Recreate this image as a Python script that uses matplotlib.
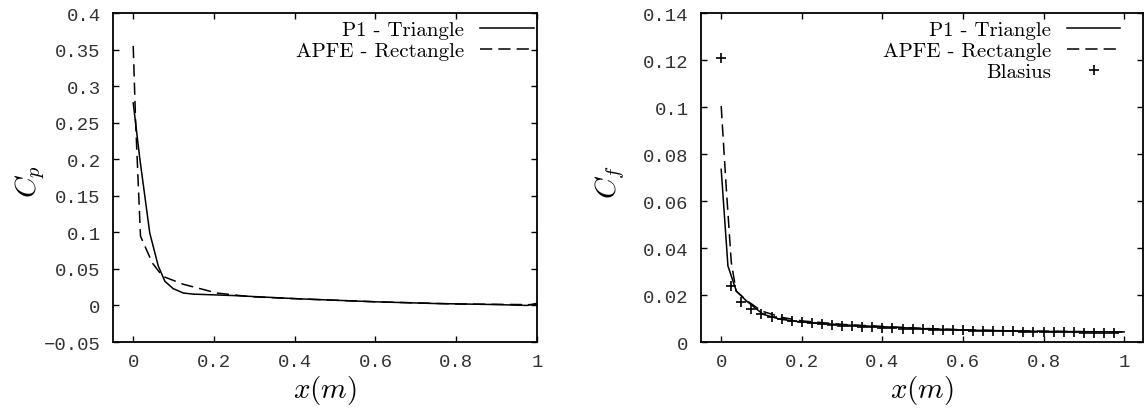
import matplotlib
matplotlib.use('Agg')
import matplotlib.pyplot as plt
import numpy as np

# values
cp_x_p1 = [0.0, 0.0165, 0.041, 0.062, 0.0785, 0.099, 0.124, 0.149, 0.25, 0.413, 0.6, 0.744, 0.9, 0.975, 1.0]
cp_p1 = [0.277, 0.200, 0.099, 0.054, 0.033, 0.023, 0.017, 0.0155, 0.0135, 0.009, 0.005, 0.0027, 0.0012, 0.0, 0.003]
cp_x_apfe = [0.0, 0.006, 0.018, 0.025, 0.0475, 0.0725, 0.124, 0.207, 0.29, 0.413, 0.6, 0.8, 1.0]
cp_apfe = [0.355, 0.25, 0.095, 0.086, 0.058, 0.040, 0.029, 0.017, 0.012, 0.009, 0.005, 0.002, 0.001]

cf_x_p1 = [0.0, 0.0167, 0.0375, 0.0625, 0.104, 0.146, 0.2, 0.3, 0.4, 0.5, 0.6, 0.7, 0.8, 0.9, 1.0]
cf_p1 = [0.0735, 0.0324, 0.0217, 0.0175, 0.0118, 0.0097, 0.0085, 0.0073, 0.0065, 0.0057, 0.0051, 0.0048, 0.0045, 0.0044, 0.0043]
cf_x_apfe = [0.0, 0.0124, 0.025, 0.037, 0.0625, 0.1, 0.15, 0.2, 0.3, 0.4, 0.5, 0.6, 0.7, 0.8, 0.9, 1.0]
cf_apfe = [0.1004, 0.066, 0.034, 0.0217, 0.0178, 0.0132, 0.0105, 0.009, 0.0075, 0.0066, 0.0058, 0.0052, 0.0048, 0.0046, 0.0044, 0.0043]

blasius_x = [0.0, 0.025, 0.05, 0.075, 0.1, 0.125, 0.15, 0.175, 0.2, 0.225,
             0.25, 0.275, 0.3, 0.325, 0.35, 0.375, 0.4, 0.425, 0.45, 0.475,
             0.5, 0.525, 0.55, 0.575, 0.6, 0.625, 0.65, 0.675, 0.7, 0.725,
             0.75, 0.775, 0.8, 0.825, 0.85, 0.875, 0.9, 0.925, 0.95, 0.975]
blasius_cf = [0.121, 0.024, 0.017, 0.0139, 0.012, 0.0107, 0.0098, 0.0091, 0.0085, 0.008,
              0.0076, 0.0072, 0.0069, 0.0067, 0.0064, 0.0062, 0.006, 0.0058, 0.0057, 0.0055,
              0.0054, 0.0053, 0.0051, 0.005, 0.0049, 0.0048, 0.0047, 0.0046, 0.0046, 0.0045,
              0.0044, 0.0043, 0.0043, 0.0042, 0.0041, 0.0041, 0.004, 0.004, 0.0039, 0.0039]

plt.rcParams['mathtext.fontset'] = 'cm'

fig = plt.figure(figsize=(11.44, 4.10), dpi=100)
ax1 = fig.add_axes([0.0988, 0.1634, 0.3706, 0.8024])
ax2 = fig.add_axes([0.6128, 0.1634, 0.3864, 0.8024])

lw = 1.1
dash = (8, 4)
legend_font = {'family': 'cmr10', 'size': 15}

def style_axes(ax, xlim, ylim, yticks, yfmt, ylabel, ylabel_x):
    ax.set_xlim(*xlim)
    ax.set_ylim(*ylim)
    ax.set_xticks([0, 0.2, 0.4, 0.6, 0.8, 1.0])
    ax.set_xticklabels(['0', '0.2', '0.4', '0.6', '0.8', '1'])
    ax.set_yticks(yticks)
    ax.set_yticklabels([yfmt(v) for v in yticks])
    ax.tick_params(direction='in', length=4.5, width=1.0, top=True, right=True,
                   labelsize=13.7, colors='black', labelcolor='#333333')
    ax.tick_params(axis='x', pad=8)
    ax.tick_params(axis='y', pad=9)
    for lab in ax.get_xticklabels() + ax.get_yticklabels():
        lab.set_family('Liberation Mono')
    for s in ax.spines.values():
        s.set_linewidth(1.3)
    ax.set_xlabel('$x(m)$', fontsize=21, labelpad=2)
    ax.set_ylabel(ylabel, fontsize=21, va='center')
    ax.yaxis.set_label_coords(ylabel_x, 0.49)

def fmt_tick(v):
    s = ('%.2f' % v).rstrip('0').rstrip('.')
    return s.replace('-', '\u2212') if v < 0 else s

style_axes(ax1, (-0.05, 1.0), (-0.05, 0.4), np.arange(-0.05, 0.41, 0.05), fmt_tick, '$C_p$', -0.196)
style_axes(ax2, (-0.05, 1.047), (0, 0.14), np.arange(0, 0.141, 0.02), fmt_tick, '$C_f$', -0.206)

leg_kw = dict(loc='upper right', frameon=False, markerfirst=False, prop=legend_font,
              handlelength=2.55, handletextpad=0.77, labelspacing=0.12,
              borderaxespad=0, borderpad=0)

ax1.plot(cp_x_p1, cp_p1, color='black', lw=lw, label='P1 - Triangle')
ax1.plot(cp_x_apfe, cp_apfe, color='black', lw=lw, dashes=dash, label='APFE - Rectangle')
ax1.legend(bbox_to_anchor=(0.992, 0.978), **leg_kw)

ax2.plot(cf_x_p1, cf_p1, color='black', lw=lw, label='P1 - Triangle')
ax2.plot(cf_x_apfe, cf_apfe, color='black', lw=lw, dashes=dash, label='APFE - Rectangle')
ax2.plot(blasius_x, blasius_cf, ls='none', marker='+', ms=7, mew=1.2, color='black', label='Blasius')
ax2.legend(bbox_to_anchor=(0.948, 0.978), **leg_kw)

fig.savefig('out.png', dpi=100)
